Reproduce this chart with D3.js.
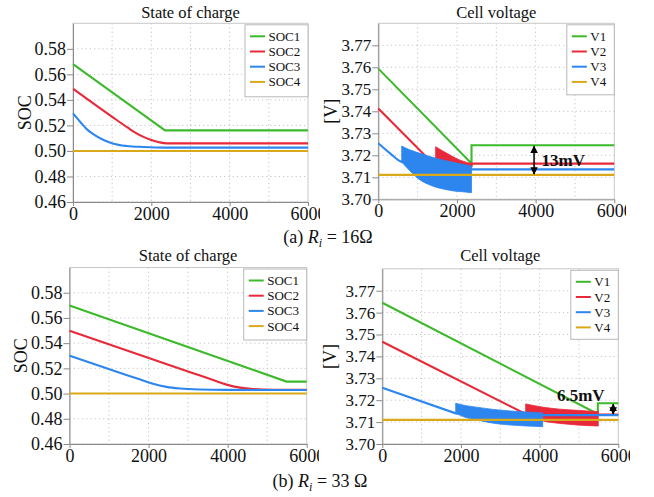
<!DOCTYPE html>
<html><head><meta charset="utf-8">
<script src="https://cdn.jsdelivr.net/npm/d3@7"></script>
<style>
body{margin:0;background:#fff}
text{font-family:"Liberation Serif","Times New Roman",serif;fill:#111}
</style>
</head><body><svg id="c" width="654" height="497"></svg>
<script>
// ---------- data ----------
const xTickVals = [0, 2000, 4000, 6000];
const xGridVals = [1000, 2000, 3000, 4000, 5000];
const socTickVals = [0.46, 0.48, 0.50, 0.52, 0.54, 0.56, 0.58];
const vTickVals = [3.70, 3.71, 3.72, 3.73, 3.74, 3.75, 3.76, 3.77];
const socNames = ["SOC1", "SOC2", "SOC3", "SOC4"];
const vNames = ["V1", "V2", "V3", "V4"];

// (a) Ri = 16 ohm : state of charge  [time, SOC]
const socA1 = [[0,0.568],[2350,0.5161],[6000,0.5161]];
const socA2 = [[0,0.5487],[1000,0.5267],[1400,0.5182],[1600,0.5142],[1800,0.511],[2000,0.5085],[2200,0.5068],[2400,0.5059],[6000,0.5059]];
const socA3 = [[0,0.5294],[187,0.5227],[356,0.5169],[526,0.513],[781,0.5086],[1035,0.5057],[1375,0.5039],[1799,0.5031],[2351,0.5026],[6000,0.5026]];
const socA4 = [[0,0.5],[6000,0.5]];

// (a) cell voltage [time, V]
const vA1 = [[0,3.7594],[2370,3.7163],[2370,3.7246],[6000,3.7246]];
const vA2 = [[0,3.7413],[1458,3.7150],[2370,3.7150],[2370,3.7162],[6000,3.7162]];
const vA3 = [[0,3.7255],[300,3.7209],[595,3.7170],[2370,3.7136],[6000,3.7136]];
const vA4 = [[0,3.7111],[6000,3.7111]];
// switching ripple envelopes (filled bands)
const bandA2_t  = [1458, 1823, 2077, 2370];
const bandA2_hi = [3.7239, 3.7201, 3.7178, 3.7163];
const bandA2_lo = [3.7150, 3.7149, 3.7148, 3.7147];
const bandA3_t  = [595, 800, 1060, 1270, 1484, 1700, 1907, 2150, 2370];
const bandA3_hi = [3.7242, 3.7225, 3.7209, 3.7197, 3.7186, 3.7176, 3.7168, 3.7159, 3.7151];
const bandA3_lo = [3.7170, 3.7130, 3.7088, 3.7068, 3.7054, 3.7045, 3.7038, 3.7034, 3.7030];

// (b) Ri = 33 ohm : state of charge
const socB1 = [[0,0.5698],[5490,0.5095],[6000,0.5095]];
const socB2 = [[0,0.5498],[3127,0.5162],[3634,0.5108],[3972,0.5071],[4310,0.5047],[4648,0.5036],[5155,0.503],[6000,0.5029]];
const socB3 = [[0,0.530],[1437,0.5148],[1775,0.5113],[2113,0.5077],[2451,0.5053],[2789,0.504],[3296,0.5032],[3972,0.5029],[6000,0.5028]];
const socB4 = [[0,0.5],[6000,0.5]];

// (b) cell voltage
const vB1 = [[0,3.7645],[5480,3.7137],[5480,3.7186],[6000,3.7186]];
const vB2 = [[0,3.7467],[3645,3.7137],[5491,3.7134],[6000,3.7134]];
const vB3 = [[0,3.7257],[1866,3.7140],[4077,3.7132],[6000,3.7132]];
const vB4 = [[0,3.7110],[6000,3.7110]];
const bandB2_t  = [3645, 4093, 4517, 4941, 5491];
const bandB2_hi = [3.7183, 3.7168, 3.7159, 3.7154, 3.7148];
const bandB2_lo = [3.7137, 3.7105, 3.7094, 3.7087, 3.7082];
const bandB3_t  = [1866, 2103, 2400, 2822, 3246, 3670, 4077];
const bandB3_hi = [3.7186, 3.7176, 3.7168, 3.7158, 3.7151, 3.7146, 3.7142];
const bandB3_lo = [3.7140, 3.7122, 3.7110, 3.7095, 3.7087, 3.7082, 3.7079];

// annotations (data coordinates)
const annA = {label:"13mV", t:3960, from:3.7246, to:3.7111, textT:4150, textV:3.7153};
const annB = {label:"6.5mV", t:5870, from:3.7186, to:3.7132, textT:4440, textV:3.7196};

// ---------- style ----------
const colors = ["#3dba2c", "#e8293a", "#2d86ee", "#d9a91a"];

const svg = d3.select("#c");
const defs = svg.append("defs");
defs.append("marker").attr("id","arr").attr("viewBox","0 0 10 10")
  .attr("refX",9).attr("refY",5).attr("markerWidth",5).attr("markerHeight",5)
  .attr("orient","auto-start-reverse")
  .append("path").attr("d","M0,0 L10,5 L0,10 z").attr("fill","#000");

const zipBand = (t, hi, lo) => t.map((d,i)=>({t:d, hi:hi[i], lo:lo[i]}));
const L = d3.curveLinear, M = d3.curveMonotoneX;

const panels = [
  {x0:73, x1:308, yTop:23.3, yBot:202, dom:[0.46,0.60], ticks:socTickVals, fmt:d3.format(".2f"),
   title:"State of charge", titleY:18, ylabel:"SOC", ylabX:25, tickFs:18, clipR:320,
   names:socNames, lg:{w:63,h:72}, lines:[socA1,socA2,socA3,socA4], bands:[null,null,null,null], curves:[L,M,M,L]},
  {x0:378.3, x1:614.3, yTop:23.3, yBot:199.3, dom:[3.70,3.78], ticks:vTickVals, fmt:d3.format(".2f"),
   title:"Cell voltage", titleY:18, ylabel:"[V]", ylabX:331, tickFs:17, clipR:626,
   names:vNames, lg:{w:47.5,h:70}, lines:[vA1,vA2,vA3,vA4],
   bands:[null, zipBand(bandA2_t,bandA2_hi,bandA2_lo), zipBand(bandA3_t,bandA3_hi,bandA3_lo), null],
   curves:[L,L,M,L], ann:annA},
  {x0:69.5, x1:306.7, yTop:267.5, yBot:444, dom:[0.46,0.60], ticks:socTickVals, fmt:d3.format(".2f"),
   title:"State of charge", titleY:261, ylabel:"SOC", ylabX:21, tickFs:18, clipR:319,
   names:socNames, lg:{w:63,h:71}, lines:[socB1,socB2,socB3,socB4], bands:[null,null,null,null], curves:[L,M,M,L]},
  {x0:382.3, x1:618.3, yTop:268.8, yBot:444, dom:[3.70,3.78], ticks:vTickVals, fmt:d3.format(".2f"),
   title:"Cell voltage", titleY:261, ylabel:"[V]", ylabX:330, tickFs:17, clipR:630,
   names:vNames, lg:{w:47.5,h:69}, lines:[vB1,vB2,vB3,vB4],
   bands:[null, zipBand(bandB2_t,bandB2_hi,bandB2_lo), zipBand(bandB3_t,bandB3_hi,bandB3_lo), null],
   curves:[L,L,L,L], ann:annB}
];

panels.forEach((p, pi) => {
  const x = d3.scaleLinear().domain([0,6000]).range([p.x0, p.x1]);
  const y = d3.scaleLinear().domain(p.dom).range([p.yBot, p.yTop]);
  const g = svg.append("g");

  // grid
  g.selectAll(".gx").data(xGridVals).join("line")
    .attr("x1",d=>x(d)).attr("x2",d=>x(d)).attr("y1",p.yTop).attr("y2",p.yBot)
    .attr("stroke","#c4c4c4").attr("stroke-dasharray","1.2,3").attr("stroke-width",1);
  g.selectAll(".gy").data(p.ticks).join("line")
    .attr("x1",p.x0).attr("x2",p.x1).attr("y1",d=>y(d)).attr("y2",d=>y(d))
    .attr("stroke","#c4c4c4").attr("stroke-dasharray","1.2,3").attr("stroke-width",1);

  // frame
  g.append("rect").attr("x",p.x0).attr("y",p.yTop).attr("width",p.x1-p.x0).attr("height",p.yBot-p.yTop)
    .attr("fill","none").attr("stroke","#c8c8c8");

  // axes
  const clipId = "clip"+pi;
  defs.append("clipPath").attr("id",clipId).append("rect")
    .attr("x",0).attr("y",0).attr("width",p.clipR).attr("height",497);
  const ax = g.append("g").attr("transform",`translate(0,${p.yBot})`).attr("clip-path",`url(#${clipId})`)
    .call(d3.axisBottom(x).tickValues(xTickVals).tickFormat(d3.format("d")).tickSizeInner(4).tickSizeOuter(0).tickPadding(1));
  ax.select(".domain").attr("stroke","#8a8a8a");
  ax.selectAll(".tick line").attr("stroke","#8a8a8a");
  ax.selectAll("text").attr("font-size",18).attr("font-family","Liberation Serif").attr("fill","#111");

  const ay = g.append("g").attr("transform",`translate(${p.x0},0)`)
    .call(d3.axisLeft(y).tickValues(p.ticks).tickFormat(p.fmt).tickSizeInner(6).tickSizeOuter(0).tickPadding(1));
  ay.select(".domain").attr("stroke","#8a8a8a");
  ay.selectAll(".tick line").attr("stroke","#8a8a8a");
  ay.selectAll("text").attr("font-size",p.tickFs).attr("font-family","Liberation Serif").attr("fill","#111");

  // title + y label
  g.append("text").attr("x",(p.x0+p.x1)/2).attr("y",p.titleY).attr("text-anchor","middle")
    .attr("font-size",16.5).text(p.title);
  g.append("text").attr("transform",`translate(${p.ylabX},${(p.yTop+p.yBot)/2}) rotate(-90)`)
    .attr("text-anchor","middle").attr("dominant-baseline","central").attr("font-size",18).text(p.ylabel);

  // data
  const plot = g.append("g");
  const area = d3.area().x(d=>x(d.t)).y0(d=>y(d.lo)).y1(d=>y(d.hi)).curve(d3.curveMonotoneX);
  p.lines.forEach((ser, i) => {
    const line = d3.line().x(d=>x(d[0])).y(d=>y(d[1])).curve(p.curves[i]);
    if (p.bands[i]) {
      plot.append("path").attr("d", area(p.bands[i])).attr("fill", colors[i]).attr("stroke", colors[i]).attr("stroke-width",0.8);
    }
    plot.append("path").attr("d", line(ser)).attr("fill","none")
      .attr("stroke", colors[i]).attr("stroke-width", 2.1);
  });

  // annotation
  if (p.ann) {
    const a = p.ann;
    g.append("line").attr("x1",x(a.t)).attr("x2",x(a.t)).attr("y1",y(a.from)+1).attr("y2",y(a.to)-1)
      .attr("stroke","#000").attr("stroke-width",1.5)
      .attr("marker-start","url(#arr)").attr("marker-end","url(#arr)");
    g.append("text").attr("x",x(a.textT)).attr("y",y(a.textV)).attr("font-size",17)
      .attr("font-weight","bold").text(a.label);
  }

  // legend
  const lx = p.x1 - p.lg.w, ly = p.yTop + 1.5;
  const lg = g.append("g");
  lg.append("rect").attr("x",lx).attr("y",ly).attr("width",p.lg.w).attr("height",p.lg.h)
    .attr("fill","#fff").attr("stroke","#b8b8b8");
  p.names.forEach((n,i) => {
    const yy = ly + 11.5 + i*15.2;
    lg.append("line").attr("x1",lx+5).attr("x2",lx+20).attr("y1",yy).attr("y2",yy)
      .attr("stroke",colors[i]).attr("stroke-width",2);
    lg.append("text").attr("x",lx+23.5).attr("y",yy+4.5).attr("font-size",13).text(n);
  });
});

// captions
function caption(cx, cy, pre, post) {
  const t = svg.append("text").attr("x",cx).attr("y",cy).attr("text-anchor","middle").attr("font-size",18);
  t.append("tspan").text(pre);
  t.append("tspan").attr("font-style","italic").text("R");
  t.append("tspan").attr("font-style","italic").attr("font-size",12).attr("dy",4).text("i");
  t.append("tspan").attr("dy",-4).text(post);
}
caption(328, 243, "(a) ", " = 16Ω");
caption(320, 487, "(b) ", " = 33 Ω");
</script></body></html>
